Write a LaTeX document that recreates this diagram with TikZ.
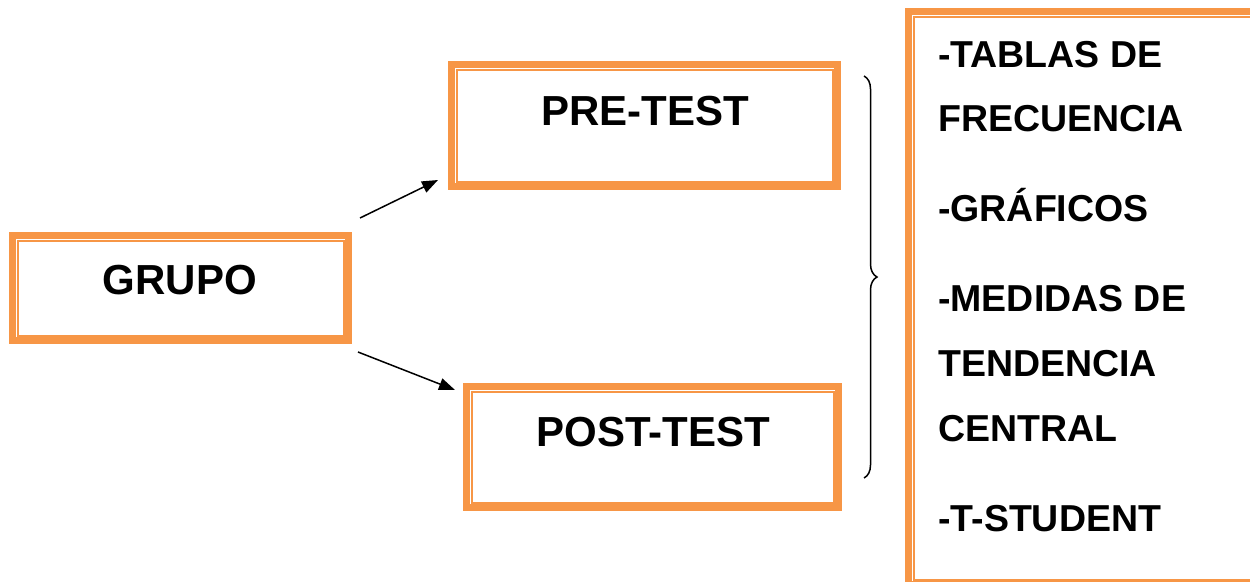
\documentclass[tikz,border=0pt]{standalone}
\usepackage{fontspec}
\setmainfont{Liberation Sans}
\usetikzlibrary{arrows.meta,calc,decorations.pathreplacing}
\definecolor{boxorange}{HTML}{F79646}
\tikzset{
  outerbox/.style={draw=boxorange, line width=7pt, inner sep=0pt, fill=white},
  innerline/.style={draw=boxorange, line width=2pt},
  bigtxt/.style={font=\fontsize{42}{48}\selectfont\bfseries, inner sep=0pt, anchor=base},
  listtxt/.style={font=\fontsize{37.5}{42}\selectfont\bfseries, inner sep=0pt, anchor=base west},
  arr/.style={line width=1.5pt, -{Triangle[length=16pt,width=12pt]}},
  bracestyle/.style={line width=1.5pt, decorate, decoration={brace, amplitude=13pt}}
}
\begin{document}
\begin{tikzpicture}[x=1pt, y=-1pt]
\clip (0,0) rectangle (1250,581);
\useasboundingbox (0,0) rectangle (1250,581);
\fill[white] (0,0) rectangle (1250,581);

% boxes (outer thick border, centre-line dimensions)
\node[outerbox, minimum width=336pt, minimum height=105pt] (grupo) at (180.5,288) {};
\node[outerbox, minimum width=386pt, minimum height=122pt] (pre) at (644.5,125.5) {};
\node[outerbox, minimum width=372pt, minimum height=121pt] (post) at (652.5,447) {};
\node[outerbox, minimum width=378pt, minimum height=573pt] (list) at (1097.5,298) {};

% inner thin lines
\draw[innerline] ($(grupo.north west)+(8.5,8.5)$) rectangle ($(grupo.south east)+(-8.5,-8.5)$);
\draw[innerline] ($(pre.north west)+(8.5,8.5)$) rectangle ($(pre.south east)+(-8.5,-8.5)$);
\draw[innerline] ($(post.north west)+(8.5,8.5)$) rectangle ($(post.south east)+(-8.5,-8.5)$);
\draw[innerline] ($(list.north west)+(8.5,8.5)$) rectangle ($(list.south east)+(-8.5,-8.5)$);

% box texts
\node[bigtxt] (tgrupo) at (180,294) {GRUPO};
\node[bigtxt] (tpre) at (645,125) {PRE-TEST};
\node[bigtxt] (tpost) at (653,446) {POST-TEST};

% list texts
\node[listtxt] (l1) at (938,67) {-TABLAS DE};
\node[listtxt] (l2) at (938,131) {FRECUENCIA};
\node[listtxt] (l3) at (938,221) {-GRÁFICOS};
\node[listtxt] (l4) at (938,311) {-MEDIDAS DE};
\node[listtxt] (l5) at (938,376) {TENDENCIA};
\node[listtxt] (l6) at (938,441) {CENTRAL};
\node[listtxt] (l7) at (938,531) {-T-STUDENT};

% arrows
\coordinate (a1s) at (360,218);
\coordinate (a1e) at (438,180);
\coordinate (a2s) at (358,352);
\coordinate (a2e) at (455,390);
\draw[arr] (a1s) -- (a1e);
\draw[arr] (a2s) -- (a2e);

% brace
\coordinate (btop) at (864,76);
\coordinate (bbot) at (864,478);
\draw[bracestyle] (btop) -- (bbot);
\end{tikzpicture}
\end{document}
